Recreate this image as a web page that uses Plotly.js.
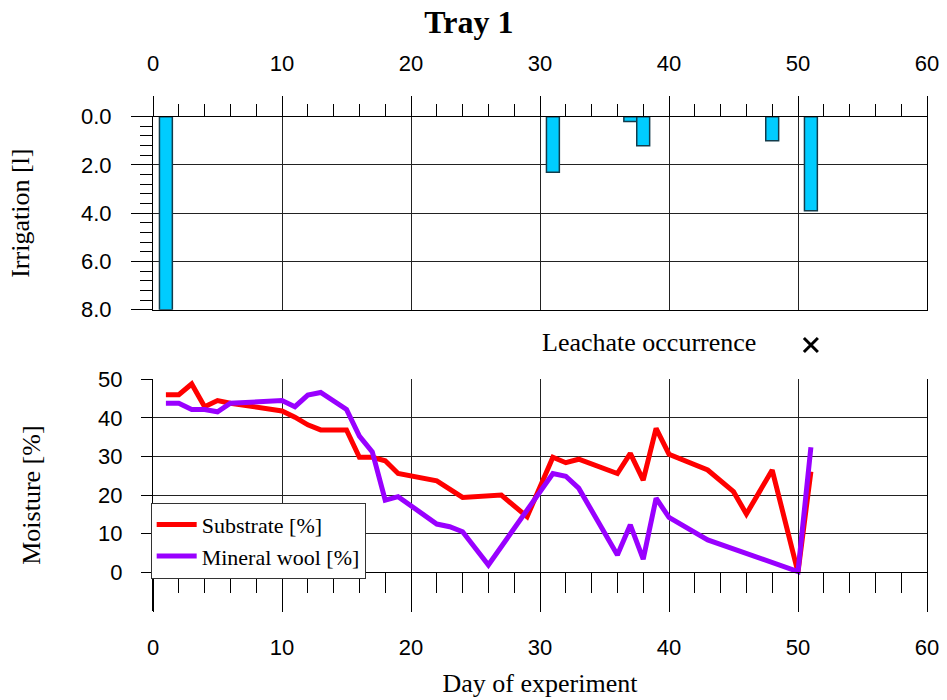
<!DOCTYPE html>
<html>
<head>
<meta charset="utf-8">
<script src="https://cdn.plot.ly/plotly-3.0.1.min.js"></script>
<style>html,body{margin:0;padding:0;background:#fff;}#chart{width:947px;height:700px;}</style>
</head>
<body>
<div id="chart"></div>
<script>
// Irrigation (top panel)
const irrigationDays = [1, 31, 37, 38, 48, 51];
const irrigationLitres = [8.0, 2.3, 0.2, 1.2, 1.0, 3.9];

// Moisture (bottom panel)
const substrateDays = [1, 2, 3, 4, 5, 6, 10, 11, 12, 13, 15, 16, 17, 18, 19, 20, 22, 24, 26, 27, 29, 31, 32, 33, 36, 37, 38, 39, 40, 43, 45, 46, 48, 50, 51];
const substrateMoisture = [46, 46, 48.8, 42.9, 44.5, 43.8, 41.8, 40.2, 38.2, 36.9, 36.9, 29.8, 29.8, 28.9, 25.6, 24.9, 23.7, 19.4, 20.0, 20.0, 14.4, 29.8, 28.4, 29.3, 25.6, 30.8, 23.9, 37.3, 30.6, 26.5, 20.9, 15.1, 26.5, 0, 26.1];

const woolDays = [1, 2, 3, 4, 5, 6, 10, 11, 12, 13, 15, 16, 17, 18, 19, 22, 23, 24, 26, 31, 32, 33, 36, 37, 38, 39, 40, 43, 50, 51];
const woolMoisture = [43.8, 43.8, 42.2, 42.2, 41.6, 43.8, 44.5, 42.9, 45.9, 46.6, 42.2, 35.3, 31.2, 18.7, 19.6, 12.5, 11.8, 10.5, 1.9, 25.6, 24.9, 21.8, 4.5, 12.3, 3.4, 19.2, 14.2, 8.4, 0.2, 32.4];

// Leachate occurrence
const leachateDays = [51];

const xTicks = [0, 10, 20, 30, 40, 50, 60];
const moistureTicks = [0, 10, 20, 30, 40, 50];
const irrigationTicks = [0, 2, 4, 6, 8];

const serif = 'Liberation Serif, Times New Roman, serif';
const sans = 'Liberation Sans, Arial, sans-serif';
const gridC = '#222';

const traces = [
  {type:'bar', x: irrigationDays, y: irrigationLitres, xaxis:'x', yaxis:'y', width:1,
   marker:{color:'#00CCFF', line:{color:'#123c4c', width:1.5}}, showlegend:false, hoverinfo:'x+y'},
  {type:'scatter', mode:'lines', name:'Substrate [%]', x: substrateDays, y: substrateMoisture, xaxis:'x2', yaxis:'y2',
   line:{color:'#FF0000', width:5}},
  {type:'scatter', mode:'lines', name:'Mineral wool [%]', x: woolDays, y: woolMoisture, xaxis:'x2', yaxis:'y2',
   line:{color:'#9900FF', width:5}},
  {type:'scatter', mode:'markers', x: leachateDays, y: leachateDays.map(()=>0.5), xaxis:'x3', yaxis:'y3',
   marker:{symbol:'x-thin', size:14, line:{color:'#000', width:3}, color:'#000'}, showlegend:false, name:'Leachate occurrence'}
];

const layout = {
  width: 947, height: 700,
  margin: {l:153, r:20, t:0, b:0, pad:0},
  paper_bgcolor:'#fff', plot_bgcolor:'#fff',
  bargap: 0,
  title: {text:'Tray 1', font:{family:serif, size:32, color:'#000', weight:'bold'},
          xref:'container', x:0.4952, xanchor:'center', yref:'container', y:0.9686, yanchor:'middle'},
  xaxis: {domain:[0,1], anchor:'y', side:'top', range:[0,60], tickvals:xTicks,
          ticks:'outside', ticklen:19.5, tickwidth:1, tickcolor:'#000',
          showgrid:true, gridcolor:gridC, gridwidth:1, showline:true, linecolor:'#000', linewidth:1, mirror:true,
          zeroline:false, tickfont:{family:sans, size:22, color:'#000'}, ticklabelstandoff:16,
          minor:{dtick:2, tick0:0, ticks:'outside', ticklen:11.7, tickwidth:1, tickcolor:'#000', showgrid:false},
          fixedrange:true},
  yaxis: {domain:[0.5576, 0.8333], anchor:'x', range:[8, 0], tickvals:irrigationTicks, tickformat:'.1f',
          ticks:'outside', ticklen:21, tickwidth:1, tickcolor:'#000',
          showgrid:true, gridcolor:gridC, gridwidth:1, showline:true, linecolor:'#000', linewidth:1, mirror:true,
          zeroline:false, tickfont:{family:sans, size:22, color:'#000'}, ticklabelstandoff:15,
          minor:{dtick:0.4, tick0:0, ticks:'outside', ticklen:11.6, tickwidth:1, tickcolor:'#000', showgrid:false},
          title:{text:'Irrigation [l]', font:{family:serif, size:26, color:'#000'}, standoff:43},
          fixedrange:true},
  xaxis2: {domain:[0,1], anchor:'free', position:0.1824, side:'bottom', range:[0,60], tickvals:xTicks,
           ticks:'outside', ticklen:38.6, tickwidth:1, tickcolor:'#000',
           showgrid:true, gridcolor:gridC, gridwidth:1, showline:true, linecolor:'#000', linewidth:1,
           zeroline:false, tickfont:{family:sans, size:22, color:'#000'}, ticklabelstandoff:17,
           minor:{dtick:2, tick0:0, ticks:'outside', ticklen:19.4, tickwidth:1, tickcolor:'#000', showgrid:false},
           title:{text:'Day of experiment', font:{family:serif, size:26, color:'#000'}, standoff:14},
           fixedrange:true},
  yaxis2: {domain:[0.1273, 0.4581], anchor:'x2', range:[-10, 50], tickvals:moistureTicks,
           ticks:'outside', ticklen:11, tickwidth:1, tickcolor:'#000',
           showgrid:true, gridcolor:gridC, gridwidth:1, showline:true, linecolor:'#000', linewidth:1, mirror:true,
           zeroline:false, tickfont:{family:sans, size:22, color:'#000'}, ticklabelstandoff:14,
           title:{text:'Moisture [%]', font:{family:serif, size:26, color:'#000'}, standoff:50},
           fixedrange:true},
  xaxis3: {domain:[0,1], anchor:'y3', range:[0,60], visible:false, showgrid:false, zeroline:false, fixedrange:true},
  yaxis3: {domain:[0.4857, 0.5286], anchor:'x3', range:[0,1], visible:false, showgrid:false, zeroline:false, fixedrange:true},
  legend: {x:-0.003, xref:'paper', xanchor:'left', y:0.2819, yref:'paper', yanchor:'top',
           bgcolor:'#fff', bordercolor:'#333', borderwidth:1,
           font:{family:serif, size:22, color:'#000'}, itemwidth:40, tracegroupgap:0},
  annotations: [
    {text:'Leachate occurrence', xref:'paper', yref:'paper', x:0.7817, y:0.5114, xanchor:'right', yanchor:'middle',
     showarrow:false, font:{family:serif, size:26, color:'#000'}}
  ]
};

Plotly.newPlot('chart', traces, layout, {displayModeBar:false, staticPlot:true});
</script>
</body>
</html>
